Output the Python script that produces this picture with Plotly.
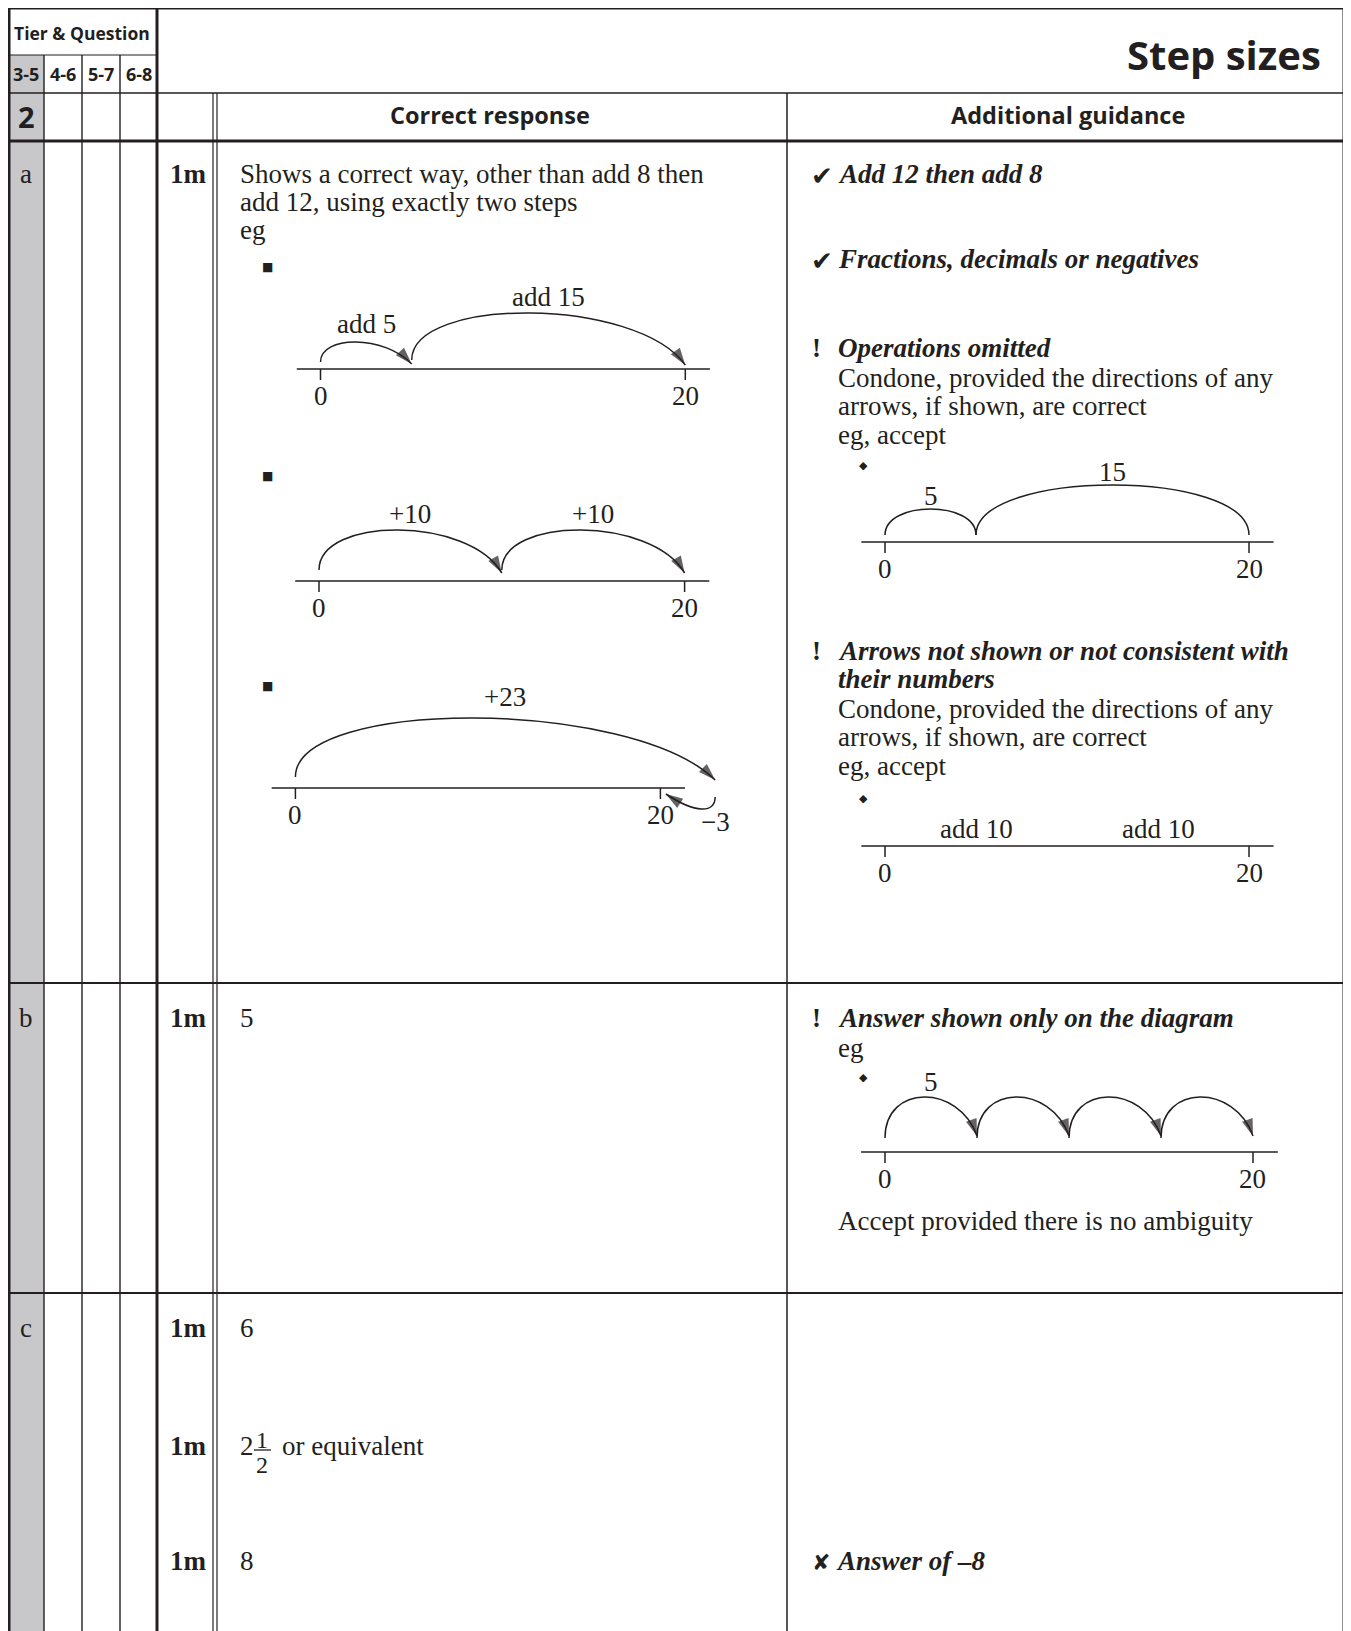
import plotly.graph_objects as go

W, H = 1351, 1631
OFF = 8  # the page puts the figure 8px in from the top-left corner
INK = "#231f20"
GREY = "#c8c8ca"
SERIF = "Liberation Serif, Times New Roman, serif"
SANS = "Open Sans, Noto Sans, sans-serif"
FS = 27

# ---------------- data ----------------
title = "Step sizes"
tier_head = "Tier & Question"
tiers = ["3-5", "4-6", "5-7", "6-8"]
question = "2"
parts = ["a", "b", "c"]
headers = ["Correct response", "Additional guidance"]
mark = "1m"

a_response = ["Shows a correct way, other than add 8 then",
              "add 12, using exactly two steps", "eg"]
line_ends = [0, 20]

# example jumps on the number lines (from, to, label)
ex1_from, ex1_to, ex1_text = [0, 5], [5, 20], ["add 5", "add 15"]
ex2_from, ex2_to, ex2_text = [0, 10], [10, 20], ["+10", "+10"]
ex3_from, ex3_to, ex3_text = [0, 23], [23, 20], ["+23", "\u22123"]
op_from, op_to, op_text = [0, 5], [5, 20], ["5", "15"]
na_at, na_text = [5, 15], ["add 10", "add 10"]
b_from, b_to, b_text = [0, 5, 10, 15], [5, 10, 15, 20], ["5", "", "", ""]

a_guid_ok = ["Add 12 then add 8", "Fractions, decimals or negatives"]
a_guid_op = ["Operations omitted"]
a_guid_ar = ["Arrows not shown or not consistent with", "their numbers"]
condone = ["Condone, provided the directions of any",
           "arrows, if shown, are correct", "eg, accept"]
b_answer = "5"
b_guid = ["Answer shown only on the diagram", "eg"]
b_accept = "Accept provided there is no ambiguity"
c_answers = ["6", "or equivalent", "8"]
c_wrong = "Answer of \u20138"

# ---------------- layout helpers ----------------
shapes, ann, traces = [], [], []
layout_axes = {}


def hline(y, x0, x1, w):
    shapes.append(dict(type="line", xref="x", yref="y", x0=x0, x1=x1, y0=y, y1=y,
                       line=dict(color=INK, width=w)))


def vline(x, y0, y1, w):
    shapes.append(dict(type="line", xref="x", yref="y", x0=x, x1=x, y0=y0, y1=y1,
                       line=dict(color=INK, width=w)))


def text(x, base, s, size=FS, family=SERIF, bold=False, italic=False, anchor="left", r=0.34):
    ann.append(dict(x=x, y=base - r * size, xref="x", yref="y", text=s, showarrow=False,
                    xanchor=anchor, yanchor="middle",
                    font=dict(family=family, size=size, color=INK,
                              weight="bold" if bold else "normal",
                              style="italic" if italic else "normal")))


def numberline(k, x0, s, yb):
    lo, hi, ylo, yhi = -3, 24.5, -50, 110
    layout_axes[f"xaxis{k}"] = dict(domain=[(x0 + lo * s - OFF) / W, (x0 + hi * s - OFF) / W],
                                    range=[lo, hi], anchor=f"y{k}", visible=False, fixedrange=True)
    layout_axes[f"yaxis{k}"] = dict(domain=[1 - (yb - ylo - OFF) / H, 1 - (yb - yhi - OFF) / H],
                                    range=[ylo, yhi], anchor=f"x{k}", visible=False, fixedrange=True)
    xs, ys = [-1.3, 21.35, None], [0, 0, None]
    for v in line_ends:
        xs += [v, v, None]
        ys += [0, -11, None]
        ann.append(dict(x=v, y=-27, xref=f"x{k}", yref=f"y{k}", text=str(v), showarrow=False,
                        font=dict(family=SERIF, size=FS, color=INK)))
    traces.append(go.Scatter(x=xs, y=ys, xaxis=f"x{k}", yaxis=f"y{k}", mode="lines",
                             line=dict(color=INK, width=1.5), hoverinfo="skip"))


def jump(k, a, b, top, label="", y0=8, y1=6, tilt=0.2, arrow=True, lab_x=None, lab_y=None):
    hc = (top - 0.125 * (y0 + y1)) / 0.75
    c2 = b - tilt * (b - a)
    shapes.append(dict(type="path", xref=f"x{k}", yref=f"y{k}",
                       path=f"M{a},{y0} C{a},{hc} {c2},{hc} {b},{y1}",
                       line=dict(color=INK, width=1.5)))
    if arrow:
        traces.append(go.Scatter(x=[c2, b], y=[hc, y1], xaxis=f"x{k}", yaxis=f"y{k}", mode="markers",
                                 marker=dict(symbol="arrow", size=[0, 18], angleref="previous",
                                             color=INK, line=dict(width=0)),
                                 hoverinfo="skip"))
    if label:
        ann.append(dict(x=(a + b) / 2 if lab_x is None else lab_x,
                        y=top + 17 if lab_y is None else lab_y,
                        xref=f"x{k}", yref=f"y{k}", text=label, showarrow=False,
                        font=dict(family=SERIF, size=FS, color=INK)))


# ---------------- table frame ----------------
L, R, TOP, BOT = 9, 1344, 8, H + OFF
shapes.append(dict(type="rect", xref="x", yref="y", x0=L, x1=44, y0=55, y1=BOT,
                   fillcolor=GREY, line=dict(width=0)))
for x in [44, 82, 120]:
    vline(x, 55, BOT, 1.4)
vline(213, 93, BOT, 1.2)
vline(217, 93, BOT, 1.2)
vline(787, 93, BOT, 1.5)
hline(55, L, 157, 1.2)
hline(93, L, R, 1.6)
hline(141, L, R, 3)
hline(983, L, R, 2)
hline(1293, L, R, 2)
vline(157, TOP, BOT, 3)
hline(TOP, L - 1.5, R + 1.5, 3)
vline(L, TOP, BOT, 3)
vline(R, TOP, BOT, 3)

# ---------------- header text ----------------
text(82, 40, tier_head, size=17.5, family=SANS, bold=True, anchor="center", r=0.39)
for i, t in enumerate(tiers):
    text([26, 63, 101, 139][i], 81, t, size=18, family=SANS, bold=True, anchor="center", r=0.39)
text(1323, 70, title, size=40, family=SANS, bold=True, anchor="right", r=0.39)
text(26, 128, question, size=29, family=SANS, bold=True, anchor="center", r=0.39)
text(490, 124, headers[0], size=23.5, family=SANS, bold=True, anchor="center", r=0.39)
text(1068, 124, headers[1], size=23.5, family=SANS, bold=True, anchor="center", r=0.39)

# row labels and marks
for p, base in zip(parts, [183, 1027, 1337]):
    text(26, base, p, anchor="center")
for base in [183, 1027, 1337, 1455, 1570]:
    text(188, base, mark, bold=True, anchor="center")

# ---------------- row a ----------------
for i, s in enumerate(a_response):
    text(238, 183 + 28 * i, s)
for y in [266, 475, 685]:
    text(267, y + 5, "\u25a0", size=12, family="DejaVu Sans", anchor="center")

numberline(2, 320.5, 18.24, 369)
jump(2, ex1_from[0], ex1_to[0], 27, ex1_text[0], y0=7, y1=5, tilt=0.3, lab_y=45)
jump(2, ex1_from[1], ex1_to[1], 56, ex1_text[1], y0=9, y1=4, tilt=0.18, lab_y=72)

numberline(3, 319, 18.28, 581)
for a, b, t in zip(ex2_from, ex2_to, ex2_text):
    jump(3, a, b, 51, t, y0=11, y1=8, tilt=0.18, lab_y=67)

numberline(4, 295.4, 18.25, 788)
jump(4, ex3_from[0], ex3_to[0], 70, ex3_text[0], y0=11, y1=8, lab_y=91)
jump(4, ex3_from[1], ex3_to[1] + 0.3, -21, ex3_text[1], y0=-9, y1=-6, tilt=0.6,
     lab_x=ex3_from[1], lab_y=-34)

text(809, 185, "\u2714", size=26, family="DejaVu Sans")
text(836, 183, a_guid_ok[0], bold=True, italic=True)
text(809, 270, "\u2714", size=26, family="DejaVu Sans")
text(836, 268, a_guid_ok[1], bold=True, italic=True)

text(816, 357, "!", bold=True, anchor="center")
text(836, 357, a_guid_op[0], bold=True, italic=True)
for i, s in enumerate(condone):
    text(836, 387 + 28.5 * i, s)
text(863, 469, "\u25c6", size=11, family="DejaVu Sans", anchor="center")
numberline(5, 885, 18.2, 542)
for a, b, t, top in zip(op_from, op_to, op_text, [33, 57]):
    jump(5, a, b, top, t, y0=7, y1=7, tilt=0, arrow=False, lab_y=top + 13)

text(816, 660, "!", bold=True, anchor="center")
for i, s in enumerate(a_guid_ar):
    text(836, 660 + 28 * i, s, bold=True, italic=True)
for i, s in enumerate(condone):
    text(836, 718 + 28.5 * i, s)
text(863, 802, "\u25c6", size=11, family="DejaVu Sans", anchor="center")
numberline(6, 885, 18.2, 846)
for v, t in zip(na_at, na_text):
    ann.append(dict(x=v, y=17, xref="x6", yref="y6", text=t, showarrow=False,
                    font=dict(family=SERIF, size=FS, color=INK)))

# ---------------- row b ----------------
text(238, 1027, b_answer)
text(816, 1027, "!", bold=True, anchor="center")
text(836, 1027, b_guid[0], bold=True, italic=True)
text(836, 1057, b_guid[1])
text(863, 1081, "\u25c6", size=11, family="DejaVu Sans", anchor="center")
numberline(7, 885, 18.4, 1152)
for a, b, t in zip(b_from, b_to, b_text):
    jump(7, a, b, 55, t, y0=14, y1=16, lab_y=70)
text(836, 1230, b_accept)

# ---------------- row c ----------------
text(238, 1337, c_answers[0])
text(238, 1455, "2")
text(262, 1440 + 8.5, "1", size=24, anchor="center")
text(262, 1465 + 8.5, "2", size=24, anchor="center")
hline(1450, 254, 271, 1.3)
text(280, 1455, c_answers[1])
text(238, 1570, c_answers[2])
text(810, 1570, "\u2718", size=22, family="DejaVu Sans")
text(834, 1570, c_wrong, bold=True, italic=True)

# ---------------- figure ----------------
fig = go.Figure()
fig.add_trace(go.Scatter(x=[OFF, W + OFF], y=[OFF, H + OFF], mode="markers",
                         marker=dict(size=0, opacity=0), hoverinfo="skip", showlegend=False))
for t in traces:
    t.showlegend = False
    fig.add_trace(t)

fig.update_layout(
    width=W, height=H, margin=dict(l=0, r=0, t=0, b=0),
    paper_bgcolor="white", plot_bgcolor="white", showlegend=False,
    xaxis=dict(domain=[0, 1], range=[OFF, W + OFF], visible=False, fixedrange=True),
    yaxis=dict(domain=[0, 1], range=[H + OFF, OFF], visible=False, fixedrange=True),
    shapes=shapes, annotations=ann, **layout_axes,
)
fig.write_html("out.html")
